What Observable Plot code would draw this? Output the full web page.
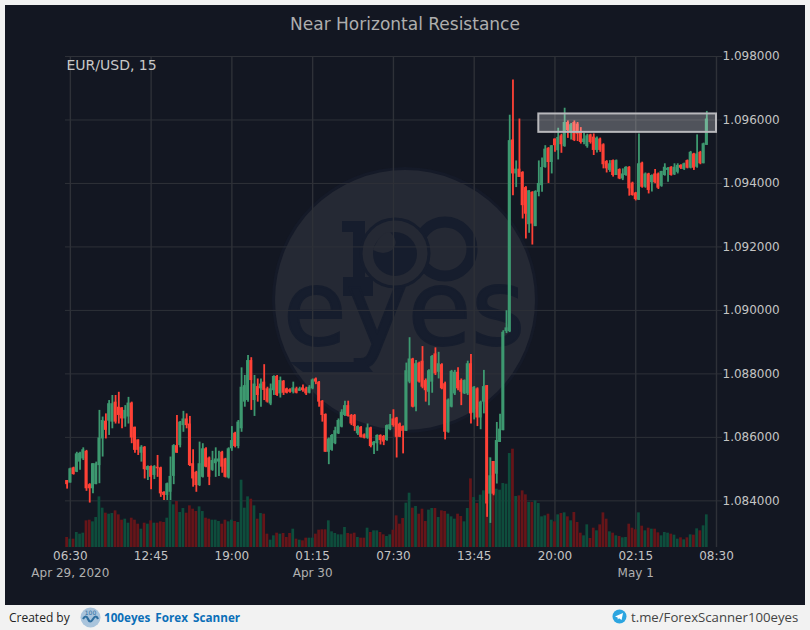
<!DOCTYPE html>
<html>
<head>
<meta charset="utf-8">
<script src="https://cdn.jsdelivr.net/npm/d3@7"></script>
<script src="https://cdn.jsdelivr.net/npm/@observablehq/plot@0.6"></script>
<style>
html,body{margin:0;padding:0;background:#f2f2f2;width:810px;height:630px;overflow:hidden;font-family:"DejaVu Sans",sans-serif}
#panel{position:absolute;left:5px;top:5px;width:800px;height:600px;background:#131722}
#logo{position:absolute;left:-5px;top:-5px}
#chart{position:absolute;left:0;top:0}
#chart svg{background:transparent;display:block}
#title{position:absolute;left:0;right:0;top:9px;text-align:center;font-size:17px;color:#aeaeae}
#footer{position:absolute;left:0;top:605px;width:810px;height:25px;font-family:"Open Sans",sans-serif;font-size:12px}
#footer span{position:absolute;white-space:nowrap;top:4px}
#footer svg{position:absolute}
</style>
</head>
<body>
<div id="panel">
<svg id="logo" width="810" height="630">
  <circle cx="405" cy="300" r="133" fill="#151a28"/>
  <circle cx="405" cy="300" r="130" fill="#252934"/>
  <g fill="#161d2d" stroke="#161d2d">
    <path d="M342 221H365V277H373V296H343V277H353V232H342Z" stroke="none"/>
    <circle cx="445" cy="249" r="27" fill="none" stroke-width="11"/>
    <circle cx="395" cy="253" r="34" fill="#252934" stroke="#161d2d" stroke-width="3"/>
    <circle cx="395" cy="254" r="22" stroke="none"/>
    <path d="M390 232Q400 242 392 250Q384 256 373 250Q380 232 390 232Z" fill="#252934" stroke="none"/>
    <text x="283" y="345" font-family="DejaVu Sans" font-size="106" textLength="242" lengthAdjust="spacingAndGlyphs" stroke-width="2">eyes</text>
    <path d="M290 362H365L373 372H303Z" stroke="none"/>
  </g>
</svg>
<div id="chart"></div>
<div id="title">Near Horizontal Resistance</div>
</div>
<div id="footer">
  <span style="left:9px;color:#222">Created by</span>
  <svg style="left:80px;top:2px" width="21" height="21" viewBox="0 0 21 21"><circle cx="10.5" cy="10.5" r="10" fill="#a9c4dc"/><path d="M3 12q3-5 5 0t5 0 5 0" fill="none" stroke="#2f6f9f" stroke-width="2.2"/><text x="10.5" y="8" font-size="6" text-anchor="middle" fill="#2f6f9f" font-family="DejaVu Sans">100</text></svg>
  <span style="left:104px;color:#0b6fb8;font-weight:700;font-size:11.7px;word-spacing:2px">100eyes Forex Scanner</span>
  <svg style="left:612px;top:4px" width="15" height="15" viewBox="0 0 15 15"><circle cx="7.5" cy="7.5" r="7" fill="#2ca5e0"/><path d="M3 7.5L11 4L9.6 11L7 9.2L5.8 10.4L5.6 8.6Z" fill="#fff"/></svg>
  <span style="left:631px;top:3px;color:#444;font-size:13.2px">t.me/ForexScanner100eyes</span>
</div>
</div>
<script>
const firstIndex = -1;
const opens = [108464,108456,108504,108490,108522,108532,108556,108451,108438,108451,108511,108595,108651,108651,108648,108711,108695,108693,108658,108664,108708,108632,108592,108550,108569,108496,108508,108480,108506,108504,108427,108417,108427,108477,108574,108574,108637,108658,108642,108517,108490,108448,108474,108564,108535,108496,108517,108522,108553,108532,108472,108564,108613,108571,108627,108711,108716,108842,108716,108760,108753,108774,108753,
108705,108747,108792,108737,108777,108753,108750,108742,108753,108745,108756,108753,108739,108753,108784,108774,108714,108672,108553,108559,108580,108611,108632,108669,108700,108669,108669,108611,108632,108608,108597,108630,108574,108580,108606,108603,108590,108624,108658,108661,108642,108634,108619,108774,108847,108695,108834,108840,108779,108742,108774,108863,108805,108829,108769,108616,108695,108737,108805,108779,108737,108737,108832,108676,108753,108661,108711,
108763,108421,108524,108484,108584,108621,108933,108933,109537,109430,109445,109435,109387,109270,109372,109264,109372,109393,109450,109511,109466,109540,109503,109550,109516,109592,109561,109592,109587,109561,109529,109516,109553,109546,109504,109540,109522,109469,109441,109472,109425,109444,109414,109425,109451,109401,109370,109347,109464,109388,109430,109402,109430,109430,109391,109425,109441,109451,109427,109435,109457,109444,109472,109448,109493,109451,109498,109462,109520];
const closes = [108451,108501,108483,108548,108550,108561,108438,108438,108517,108517,108598,108653,108622,108706,108706,108648,108669,108658,108685,108708,108598,108559,108559,108569,108498,108508,108474,108508,108501,108422,108417,108454,108477,108574,108550,108648,108658,108637,108511,108469,108448,108517,108564,108506,108474,108527,108532,108532,108506,108474,108564,108590,108571,108648,108758,108763,108842,108779,108768,108732,108768,108748,108711,
108753,108792,108732,108779,108739,108739,108742,108756,108739,108753,108747,108737,108758,108781,108774,108711,108669,108553,108595,108606,108621,108653,108679,108700,108666,108642,108634,108634,108600,108597,108630,108571,108585,108606,108590,108585,108637,108640,108637,108600,108600,108619,108810,108847,108695,108832,108774,108758,108747,108810,108855,108800,108832,108753,108616,108718,108808,108805,108753,108742,108779,108832,108674,108758,108661,108711,108760,
108390,108479,108421,108590,108626,108931,108945,109535,109430,109445,109419,109330,109303,109377,109272,109375,109400,109450,109508,109466,109519,109519,109545,109522,109592,109566,109585,109535,109555,109529,109540,109550,109529,109504,109543,109504,109459,109446,109462,109425,109472,109414,109430,109451,109383,109362,109349,109462,109388,109430,109378,109425,109402,109385,109438,109451,109448,109425,109451,109457,109448,109462,109448,109498,109448,109493,109462,109525,109603];
const highs = [108464,108503,108506,108553,108553,108567,108559,108454,108517,108522,108685,108664,108674,108716,108732,108732,108742,108693,108700,108726,108711,108632,108592,108574,108571,108510,108510,108511,108543,108506,108429,108456,108538,108577,108669,108650,108682,108674,108666,108561,108493,108585,108580,108567,108538,108556,108567,108556,108556,108534,108567,108634,108616,108653,108819,108795,108858,108851,108795,108784,108784,108829,108758,
108768,108794,108795,108790,108779,108755,108753,108774,108758,108758,108765,108758,108763,108784,108787,108776,108716,108674,108598,108609,108632,108658,108687,108714,108714,108672,108672,108636,108634,108611,108642,108632,108587,108608,108608,108606,108639,108672,108687,108663,108645,108636,108834,108914,108849,108842,108837,108886,108784,108813,108858,108882,108868,108832,108774,108721,108811,108811,108819,108784,108781,108840,108861,108760,108756,108714,108811,
108763,108535,108524,108647,108673,108936,108999,109615,109726,109471,109603,109437,109390,109377,109374,109377,109471,109480,109519,109513,109519,109540,109574,109555,109637,109597,109589,109597,109592,109576,109558,109555,109555,109556,109546,109543,109525,109472,109472,109474,109474,109446,109446,109453,109453,109404,109372,109556,109467,109433,109432,109427,109444,109433,109438,109462,109450,109453,109462,109462,109459,109464,109474,109501,109495,109553,109501,109527,109627];
const lows = [108437,108456,108481,108489,108496,108527,108430,108393,108422,108451,108454,108538,108595,108606,108627,108642,108642,108627,108632,108642,108580,108550,108543,108522,108469,108464,108435,108467,108474,108411,108401,108401,108401,108451,108550,108567,108616,108627,108508,108443,108427,108445,108472,108504,108448,108493,108474,108477,108487,108472,108469,108556,108567,108564,108616,108695,108711,108685,108666,108711,108695,108716,108708,
108700,108732,108729,108724,108732,108737,108739,108737,108737,108745,108742,108732,108737,108750,108766,108695,108648,108553,108514,108556,108577,108609,108630,108666,108664,108637,108619,108606,108598,108595,108594,108567,108546,108556,108576,108574,108588,108621,108632,108535,108600,108548,108619,108769,108693,108681,108771,108753,108711,108700,108739,108795,108784,108750,108592,108613,108693,108732,108747,108700,108735,108732,108642,108655,108634,108624,108674,
108348,108329,108416,108453,108584,108621,108927,108930,109361,109387,109419,109288,109225,109243,109206,109264,109358,109372,109448,109400,109430,109498,109474,109495,109514,109542,109537,109532,109532,109524,109522,109511,109524,109488,109496,109498,109446,109433,109435,109420,109425,109412,109409,109423,109360,109360,109345,109346,109385,109385,109367,109373,109399,109381,109388,109423,109404,109423,109425,109430,109444,109441,109446,109446,109441,109448,109459,109462,109520];
const volumes = [30,25,25,45,40,43,80,82,77,90,152,118,103,100,102,110,98,82,85,73,88,82,70,55,73,70,80,73,73,77,75,88,140,128,138,105,117,103,125,115,108,122,108,88,85,82,82,78,70,82,77,82,78,75,202,118,152,145,125,85,102,100,40,
22,35,43,40,42,30,42,55,25,22,20,28,28,28,40,52,53,53,80,47,42,38,38,60,42,40,43,30,28,28,58,45,50,50,45,38,33,38,52,95,70,87,133,163,118,123,100,115,78,112,117,117,90,110,108,100,92,85,100,93,77,117,206,150,132,157,170,
190,270,257,175,172,192,190,282,295,153,155,170,158,135,135,140,132,92,95,100,82,77,98,102,104,92,80,105,75,43,35,68,27,58,50,68,104,85,47,43,35,33,29,30,70,58,53,104,64,50,58,55,55,44,35,45,43,40,37,25,29,23,29,38,37,56,50,65,98];
const priceTicks = [1.084,1.086,1.088,1.09,1.092,1.094,1.096,1.098];
const timeTicks = [0,25,50,75,100,125,150,175,200];
const timeLabels = ["06:30","12:45","19:00","01:15","07:30","13:45","20:00","02:15","08:30"];
const dateTicks = [0,75,175];
const dateLabels = ["Apr 29, 2020","Apr 30","May 1"];
const zoneIndex = [145,200];
const zonePrice = [1.09561,1.09619];
const yFloor = 1.08253, yCeil = 1.098, volumeScale = 0.0000105;
const colors = {up:"#3d9970",down:"#ff4136",volUp:"#0e4d3c",volDown:"#661519",grid:"#2e3138"};

const n = Math.min(opens.length, closes.length, highs.length, lows.length, volumes.length);
const candles = d3.range(n).map(k => ({
  i: k + firstIndex,
  o: opens[k]/1e5, c: closes[k]/1e5, h: highs[k]/1e5, l: lows[k]/1e5, v: volumes[k],
  up: closes[k] >= opens[k]
}));
const halfVol = 0.42, halfBody = 0.46;

const chart = Plot.plot({
  width: 800, height: 600,
  marginLeft: 60, marginRight: 89, marginTop: 51, marginBottom: 58,
  style: {background:"transparent", fontFamily:"DejaVu Sans", fontSize:"12px", overflow:"visible"},
  x: {domain:[-1.5,200]},
  y: {domain:[yFloor,yCeil]},
  color: {type:"identity"},
  marks: [
    Plot.gridX(timeTicks, {stroke:colors.grid, strokeOpacity:1, strokeWidth:1.4}),
    Plot.gridY(priceTicks, {stroke:colors.grid, strokeOpacity:1}),
    Plot.rect(candles, {x1:d=>d.i-halfVol, x2:d=>d.i+halfVol, y1:yFloor, y2:d=>yFloor+d.v*volumeScale, fill:d=>d.up?colors.volUp:colors.volDown}),
    Plot.ruleX(candles, {x:"i", y1:"l", y2:"h", stroke:d=>d.up?colors.up:colors.down, strokeWidth:1.8}),
    Plot.rect(candles, {x1:d=>d.i-halfBody, x2:d=>d.i+halfBody, y1:"o", y2:"c", fill:d=>d.up?colors.up:colors.down}),
    Plot.rect([0], {x1:()=>zoneIndex[0], x2:()=>zoneIndex[1], y1:()=>zonePrice[0], y2:()=>zonePrice[1], fill:"#ffffff", fillOpacity:0.26, stroke:"#b8b8bc", strokeWidth:2}),
    Plot.axisX({ticks:timeTicks, tickFormat:d=>timeLabels[timeTicks.indexOf(d)], tickSize:0, tickPadding:4, label:null, fontSize:12, fill:"#c4c4c4", stroke:"none", textStroke:"none"}),
    Plot.axisX({ticks:dateTicks, tickFormat:d=>dateLabels[dateTicks.indexOf(d)], tickSize:0, tickPadding:21, label:null, fontSize:12, fill:"#b0b0b0", stroke:"none", textStroke:"none"}),
    Plot.axisY({ticks:priceTicks, anchor:"right", tickFormat:d3.format(".6f"), tickSize:5, tickPadding:1, label:null, fontSize:12, fill:"#c4c4c4", stroke:colors.grid}),
    Plot.text(["EUR/USD, 15"], {frameAnchor:"top-left", dx:1, dy:4, fontSize:14, fill:"#c8c8c8"})
  ]
});
document.getElementById("chart").appendChild(chart);
</script>
</body>
</html>
